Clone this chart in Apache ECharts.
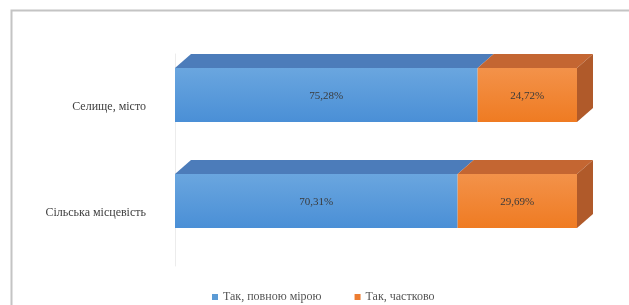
<!DOCTYPE html>
<html>
<head>
<meta charset="utf-8">
<script src="https://cdn.jsdelivr.net/npm/echarts@6/dist/echarts.min.js"></script>
<style>html,body{margin:0;padding:0;background:#fff}#c{width:629px;height:305px}</style>
</head>
<body>
<div id="c"></div>
<script>
var categories = ['Селище, місто', 'Сільська місцевість'];
var seriesNames = ['Так, повною мірою', 'Так, частково'];
var fullValues = [75.28, 70.31];
var partialValues = [24.72, 29.69];

var chart = echarts.init(document.getElementById('c'), null, {renderer: 'canvas'});

function fmt(v) { return v.toFixed(2).replace('.', ',') + '%'; }

var SERIF = 'Liberation Serif';
var DX = 16, DY = 14;
var palettes = [
  {front: ['#6aa6df', '#4a8fd6'], top: '#4c7cba', side: '#3f6fa8'},
  {front: ['#f3924a', '#ef7b22'], top: '#c46632', side: '#b05a2a'}
];

function makeRender(si, last) {
  return function (params, api) {
    var cat = api.value(0), s = api.value(1), e = api.value(2);
    var p0 = api.coord([s, cat]);
    var p1 = api.coord([e, cat]);
    var band = api.size([0, 1])[1];
    var h = band * 0.51;
    var c = p0[1] - band * 0.113;
    var yt = c - h / 2, yb = c + h / 2;
    var x0 = p0[0], x1 = p1[0];
    var pal = palettes[si];
    var children = [
      {type: 'polygon', shape: {points: [[x0, yt], [x1, yt], [x1 + DX, yt - DY], [x0 + DX, yt - DY]]},
       style: {fill: pal.top}},
      {type: 'rect', shape: {x: x0, y: yt, width: x1 - x0, height: yb - yt},
       style: {fill: new echarts.graphic.LinearGradient(0, 0, 0, 1, [{offset: 0, color: pal.front[0]}, {offset: 1, color: pal.front[1]}])}},
      {type: 'text', style: {text: fmt(api.value(3)), x: (x0 + x1) / 2, y: c + 1, align: 'center', verticalAlign: 'middle',
        fontSize: 11, fontFamily: SERIF, fill: '#3a3a3a'}}
    ];
    if (last) {
      children.push({type: 'polygon', shape: {points: [[x1, yt], [x1 + DX, yt - DY], [x1 + DX, yb - DY], [x1, yb]]},
        style: {fill: pal.side}});
    }
    return {type: 'group', children: children};
  };
}

var data1 = categories.map(function (c, i) { return [i, 0, fullValues[i], fullValues[i]]; });
var data2 = categories.map(function (c, i) { return [i, fullValues[i], fullValues[i] + partialValues[i], partialValues[i]]; });

chart.setOption({
  animation: false,
  graphic: [{type: 'rect', left: 9, top: 8, shape: {width: 630, height: 310},
    style: {fill: 'none', stroke: '#c4c4c4', lineWidth: 2}, silent: true}],
  grid: {left: 175, right: 52, top: 54, bottom: 39},
  xAxis: {type: 'value', min: 0, max: 100, show: false},
  yAxis: {type: 'category', data: categories, inverse: true, offset: 12,
    axisLine: {show: true, lineStyle: {color: '#ececec'}}, axisTick: {show: false},
    axisLabel: {margin: 17, color: '#404040', fontSize: 12, fontFamily: SERIF}},
  legend: {left: 207, top: 286, itemWidth: 6, itemHeight: 6, itemGap: 33, icon: 'rect',
    textStyle: {fontSize: 12, color: '#555', fontFamily: SERIF},
    data: seriesNames},
  series: [
    {type: 'custom', name: seriesNames[0], itemStyle: {color: '#5b9bd5'}, renderItem: makeRender(0, false),
     encode: {x: [1, 2], y: 0}, data: data1},
    {type: 'custom', name: seriesNames[1], itemStyle: {color: '#ed7d31'}, renderItem: makeRender(1, true),
     encode: {x: [1, 2], y: 0}, data: data2}
  ]
});
</script>
</body>
</html>
